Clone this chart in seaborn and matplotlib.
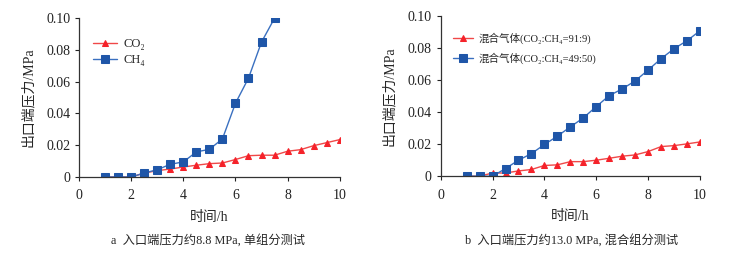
import numpy as np
import pandas as pd
import seaborn as sns
import matplotlib.pyplot as plt

# time points (h)
t_a = [1, 1.5, 2, 2.5, 3, 3.5, 4, 4.5, 5, 5.5, 6, 6.5, 7, 7.5, 8, 8.5, 9, 9.5, 10]
t_b = [1, 1.5, 2, 2.5, 3, 3.5, 4, 4.5, 5, 5.5, 6, 6.5, 7, 7.5, 8, 8.5, 9, 9.5, 10]

# panel a: single component, inlet ~8.8 MPa
co2_a = [0, 0, 0, 0.0025, 0.0040, 0.0050, 0.0063, 0.0074, 0.0084, 0.0088, 0.0110,
         0.0134, 0.0137, 0.0137, 0.0162, 0.0172, 0.0197, 0.0216, 0.0235]
t_ch4_a = [1, 1.5, 2, 2.5, 3, 3.5, 4, 4.5, 5, 5.5, 6, 6.5, 7, 7.5]
ch4_a = [0, 0, 0, 0.0025, 0.0046, 0.0080, 0.0095, 0.0158, 0.0174, 0.0240, 0.0464,
         0.0622, 0.0849, 0.0999]

# panel b: mixed gas, inlet ~13.0 MPa
mix91_b = [0, 0, 0.0020, 0.0020, 0.0033, 0.0042, 0.0067, 0.0071, 0.0091, 0.0091, 0.0100,
           0.0112, 0.0125, 0.0133, 0.0154, 0.0185, 0.0191, 0.0202, 0.0214]
mix49_b = [0, 0, 0, 0.0048, 0.0100, 0.0141, 0.0198, 0.0250, 0.0308, 0.0364, 0.0435,
           0.0503, 0.0545, 0.0595, 0.0663, 0.0734, 0.0796, 0.0846, 0.0908]

sns.set_style("ticks")
plt.rcParams['font.family'] = ['Liberation Serif', 'Noto Sans CJK SC', 'DejaVu Serif']
plt.rcParams['axes.unicode_minus'] = False

RED = '#f5222a'
RED_LINE = '#f04848'
BLUE = '#1f56a8'
BLUE_LINE = '#3a70c0'

fig = plt.figure(figsize=(7.4, 2.58), dpi=100)
ax1 = fig.add_axes([0.107, 0.314, 0.352, 0.616])
ax2 = fig.add_axes([0.5955, 0.317, 0.3505, 0.621])

yticks = [0, 0.02, 0.04, 0.06, 0.08, 0.10]
ylabels = ['0', '0.02', '0.04', '0.06', '0.08', '0.10']


def draw(ax, x1, y1, lab1, x2, y2, lab2, leg_y, leg_sp, leg_fs):
    sns.lineplot(x=x1, y=y1, ax=ax, color=RED_LINE, marker='^', markersize=5,
                 markerfacecolor=RED, markeredgecolor=RED, linewidth=1.0, label=lab1)
    sns.lineplot(x=x2, y=y2, ax=ax, color=BLUE_LINE, marker='s', markersize=5.5,
                 markerfacecolor=BLUE, markeredgecolor=BLUE, linewidth=1.0, label=lab2)
    ax.set_xlim(0, 10)
    ax.set_ylim(0, 0.10)
    ax.set_xticks([0, 2, 4, 6, 8, 10])
    ax.set_yticks(yticks)
    ax.set_yticklabels(ylabels)
    ax.tick_params(labelsize=10, length=3, width=0.8, colors='#222222')
    ax.tick_params(axis='x', pad=6)
    for s in ['left', 'bottom']:
        ax.spines[s].set_linewidth(0.9)
        ax.spines[s].set_color('#333333')
    sns.despine(ax=ax)
    ax.set_xlabel('时间/h', fontsize=10, labelpad=6)
    ax.set_ylabel('出口端压力/MPa', fontsize=10, labelpad=8)
    ax.legend(loc='upper left', bbox_to_anchor=(0.01, leg_y), frameon=False,
              fontsize=leg_fs, handlelength=1.9, handletextpad=0.5, labelspacing=leg_sp)


draw(ax1, t_a, co2_a, 'CO₂', t_ch4_a, ch4_a, 'CH₄', 0.945, 0.35, 9)
draw(ax2, t_b, mix91_b, '混合气体(CO₂:CH₄=91:9)', t_b, mix49_b, '混合气体(CO₂:CH₄=49:50)',
     0.955, 0.75, 7.6)

fig.text(0.281, 0.07, 'a  入口端压力约8.8 MPa, 单组分测试', ha='center', va='center', fontsize=8.8)
fig.text(0.772, 0.07, 'b  入口端压力约13.0 MPa, 混合组分测试', ha='center', va='center', fontsize=8.8)

fig.savefig('out.png', dpi=100)
